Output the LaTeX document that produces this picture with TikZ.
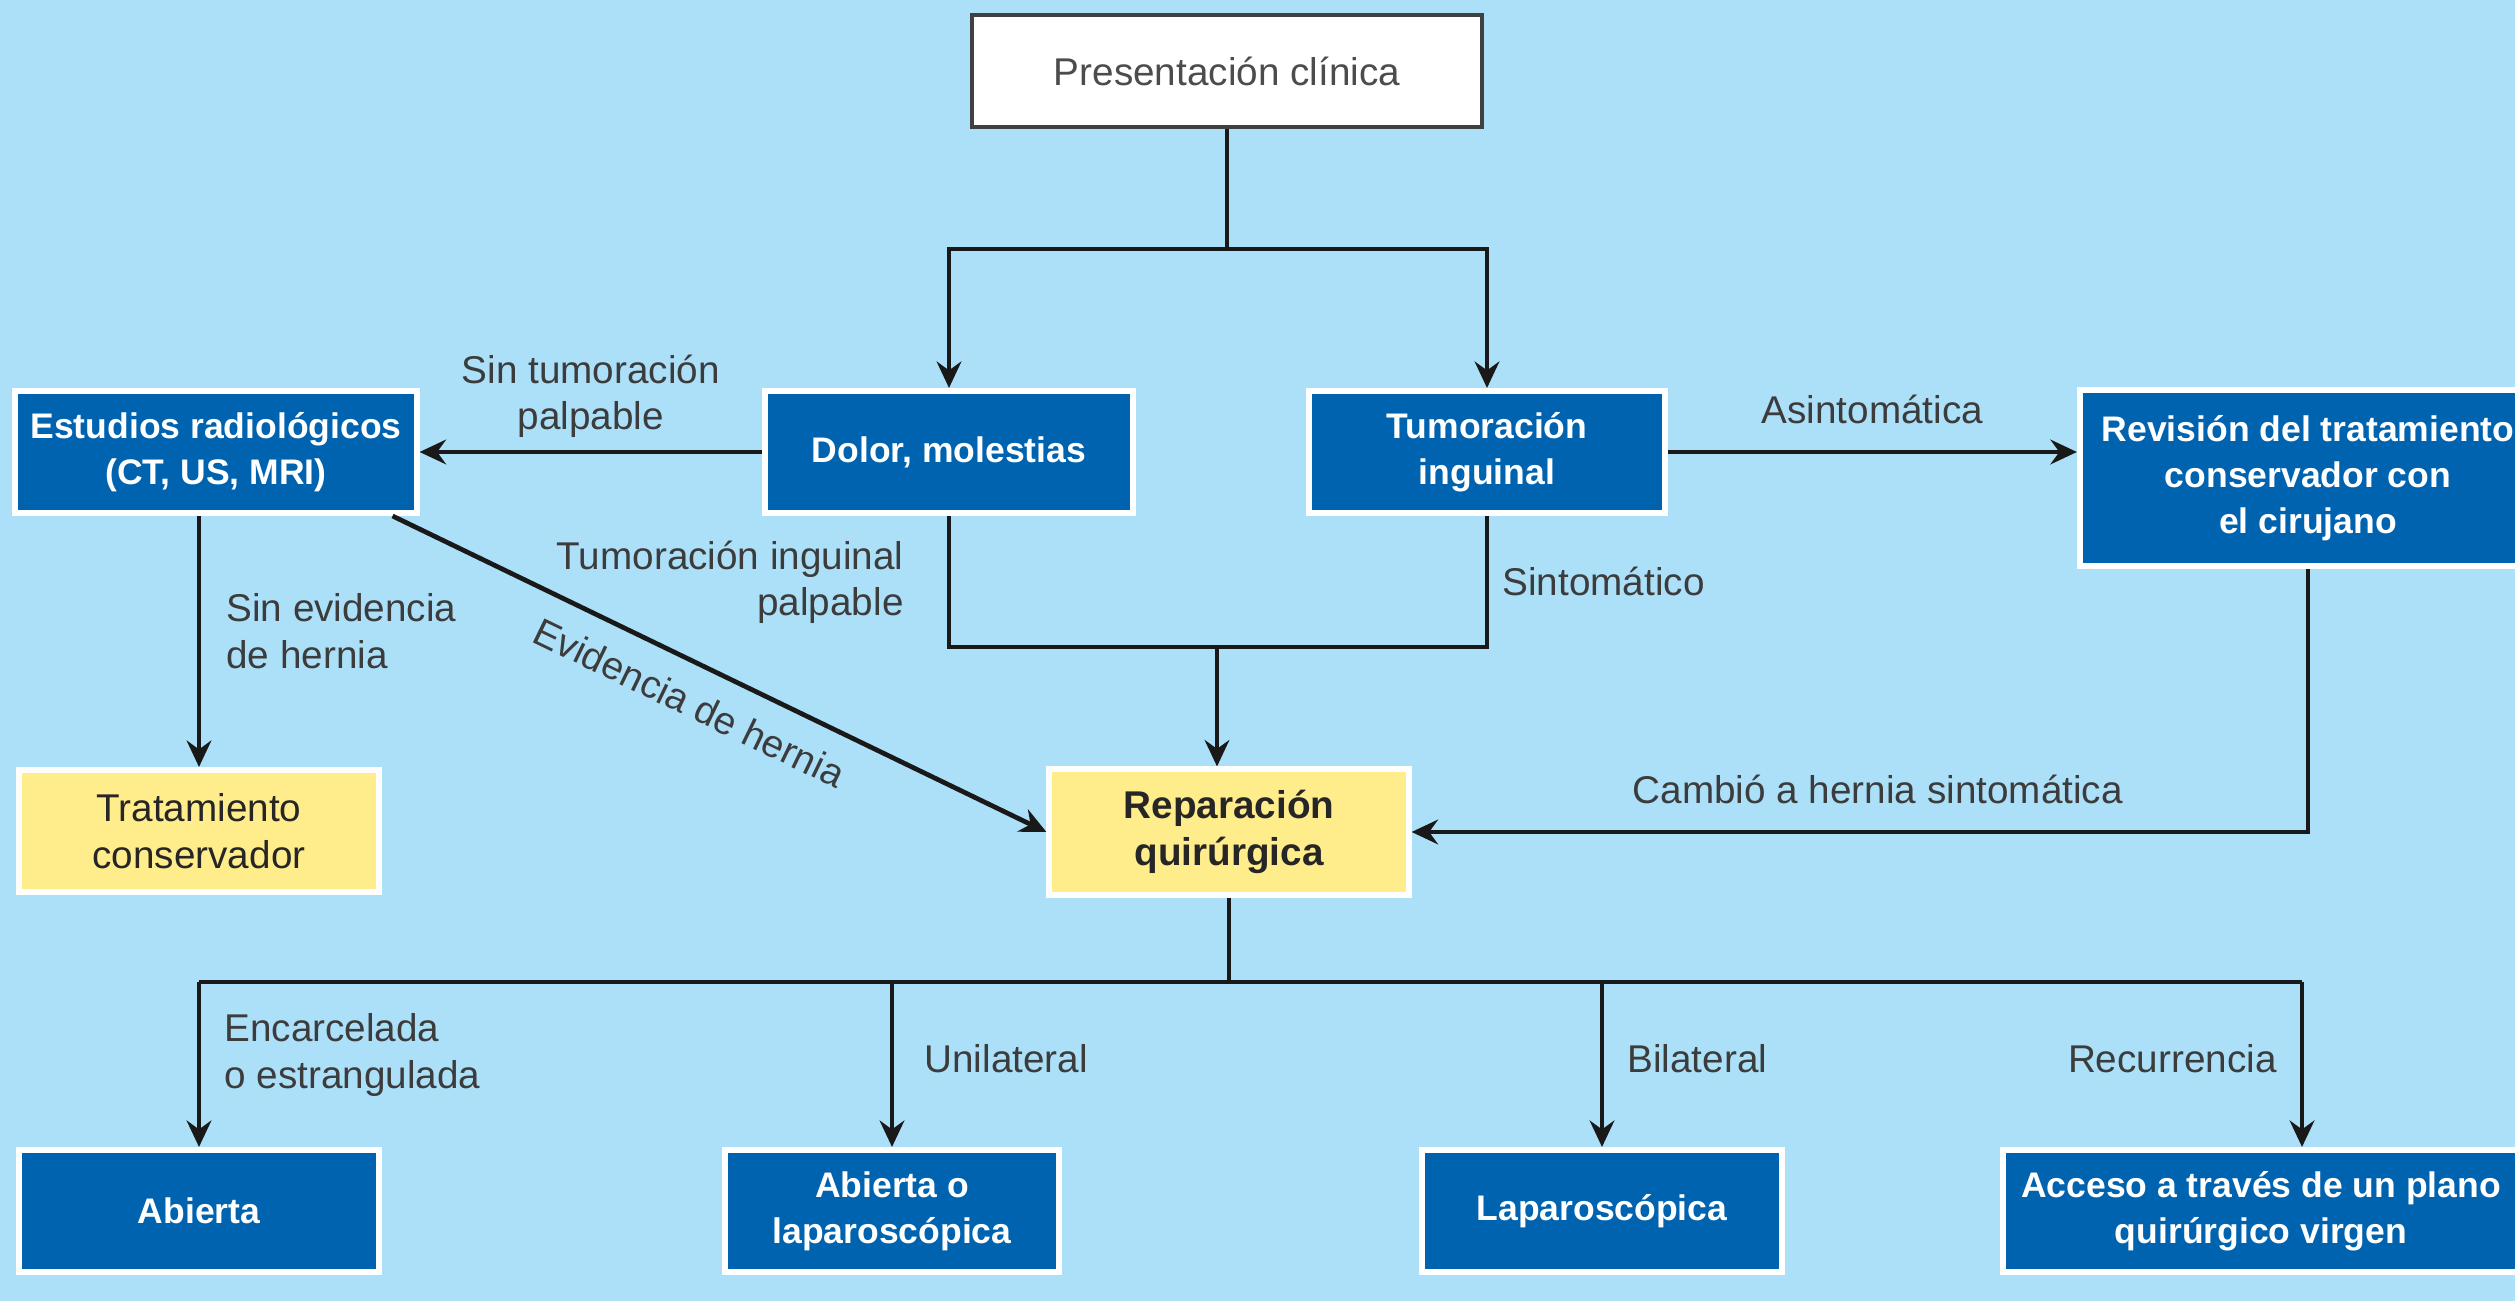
\documentclass[tikz,border=0pt]{standalone}
\usepackage{fontspec}
\setmainfont{Liberation Sans}
\usetikzlibrary{arrows.meta}

\definecolor{fondo}{HTML}{ACE0F9}
\definecolor{azul}{HTML}{0063AF}
\definecolor{amarillo}{HTML}{FFEC8B}
\definecolor{texto}{HTML}{3C3C3C}

\tikzset{
  cajaazul/.style={fill=azul, draw=white, line width=1.7pt, text=white, align=center,
    minimum height=1.22cm, font=\fontsize{10.1}{13}\selectfont\bfseries},
  cajaamarilla/.style={fill=amarillo, draw=white, line width=1.7pt, text=black!85, align=center,
    minimum height=1.22cm, font=\fontsize{11}{13.2}\selectfont},
  etiq/.style={text=texto, font=\fontsize{11}{13.2}\selectfont},
  linea/.style={line width=1.35pt, black!90},
  flecha/.style={linea, -{Stealth[length=7.5pt,width=7pt,inset=2.5pt]}}
}

\begin{document}
\begin{tikzpicture}[x=0.01cm, y=-0.01cm]
  \fill[fondo] (0,0) rectangle (2515,1301);
  \useasboundingbox (0,0) rectangle (2515,1301);

  % cajas
  \node[fill=white, draw=black!75, line width=1.3pt, minimum width=5.1cm, minimum height=1.12cm,
    text=black!70, font=\fontsize{11}{13.2}\selectfont] (pres) at (1227,71) {Presentación clínica};
  \node[cajaazul, minimum width=4.01cm] (estud) at (216,452) {Estudios radiológicos\\(CT, US, MRI)};
  \node[cajaazul, minimum width=3.68cm] (dolor) at (949,452) {Dolor, molestias};
  \node[cajaazul, minimum width=3.55cm] (tumor) at (1487,452) {Tumoración\\inguinal};
  \node[cajaazul, minimum width=4.56cm, minimum height=1.75cm] (revis) at (2308,478)
    {Revisión del tratamiento\\conservador con\\el cirujano};
  \node[cajaamarilla, minimum width=3.6cm] (trat) at (199,831) {Tratamiento\\conservador};
  \node[cajaamarilla, minimum width=3.59cm, minimum height=1.25cm,
    font=\fontsize{11}{13.2}\selectfont\bfseries] (repar) at (1229,832) {Reparación\\quirúrgica};
  \node[cajaazul, minimum width=3.6cm] (abierta) at (199,1211) {Abierta};
  \node[cajaazul, minimum width=3.34cm] (abol) at (892,1211) {Abierta o\\laparoscópica};
  \node[cajaazul, minimum width=3.59cm] (lapar) at (1602,1211) {Laparoscópica};
  \node[cajaazul, minimum width=5.16cm] (acceso) at (2261,1211) {Acceso a través de un plano\\quirúrgico virgen};

  % flechas de arriba
  \coordinate (j1) at (1227,249);
  \draw[linea] (pres.south) -- (j1);
  \draw[flecha] (j1) -| (dolor.north);
  \draw[flecha] (j1) -| (tumor.north);
  \draw[flecha] (dolor.west) -- (estud.east)
    node[etiq, midway, above, align=center] (lsintum) {Sin tumoración\\palpable};
  \draw[flecha] (tumor.east) -- (revis.west |- tumor.east)
    node[etiq, midway, above=4pt] (lasint) {Asintomática};

  % hacia la reparacion
  \coordinate (j2) at (1217,647);
  \draw[linea] (dolor.south) -- (dolor.south |- j2) -- (tumor.south |- j2) -- (tumor.south);
  \draw[flecha] (j2) -- (j2 |- repar.north);
  \node[etiq, anchor=east, align=right] (ltumpal) at (916,582) {Tumoración inguinal\\palpable};
  \node[etiq, anchor=west] (lsintom) at (1490,581) {Sintomático};

  \draw[flecha] (trat.north |- estud.south) -- (trat.north);
  \node[etiq, anchor=west, align=left] (lsinev) at (214,631) {Sin evidencia\\de hernia};
  \draw[flecha] ([xshift=-0.27cm]estud.south east) -- (repar.west)
    node[etiq, pos=0.48, sloped, below=3pt] (levid) {Evidencia de hernia};
  \draw[flecha] (revis.south) |- (repar.east)
    node[etiq, pos=0.74, above=4pt] (lcambio) {Cambió a hernia sintomática};

  % opciones quirurgicas
  \coordinate (j3) at (1229,982);
  \coordinate (j4) at (2302,982);
  \draw[linea] (repar.south) -- (j3);
  \draw[linea] (abierta.north |- j3) -- (j4);
  \foreach \n in {abierta,abol,lapar}
    \draw[flecha] (\n.north |- j3) -- (\n.north);
  \draw[flecha] (j4) -- (j4 |- acceso.north);
  \node[etiq, anchor=west, align=left] (lencar) at (212,1055) {Encarcelada\\o estrangulada};
  \node[etiq, anchor=west] (lunil) at (912,1059) {Unilateral};
  \node[etiq, anchor=west] (lbil) at (1615,1059) {Bilateral};
  \node[etiq, anchor=east] (lrecur) at (2289,1059) {Recurrencia};
\end{tikzpicture}
\end{document}
